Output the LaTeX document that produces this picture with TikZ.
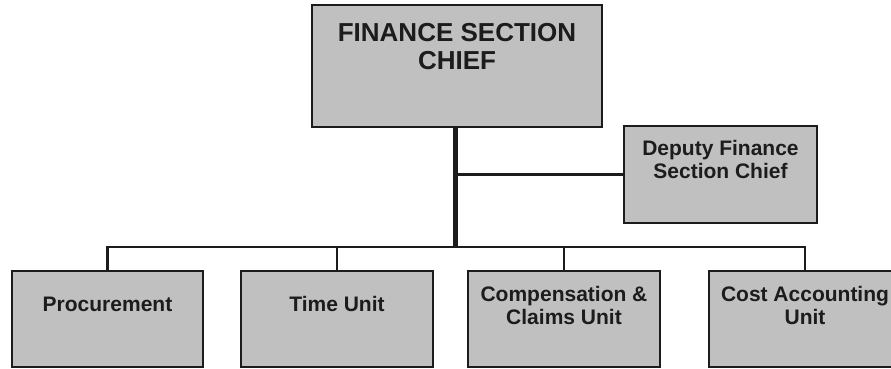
\documentclass[tikz,border=0pt]{standalone}
\usepackage{fontspec}
\setmainfont{Liberation Sans}
\definecolor{boxfill}{HTML}{C0C0C0}
\definecolor{ink}{HTML}{1C1C1C}
\begin{document}
\begin{tikzpicture}[x=1pt,y=-1pt,
  orgbox/.style={draw=ink, fill=boxfill, line width=2.8pt, inner sep=0pt, text=ink, rectangle},
  trunk/.style={draw=ink, line width=4.5pt},
  link/.style={draw=ink, line width=2.5pt}]
\useasboundingbox (0,0) rectangle (891,369);
\clip (0,0) rectangle (891,369);
% boxes
\node[orgbox] (chief) at (457,66) {\parbox[c][122pt][t]{290pt}{\centering\fontsize{26}{28}\selectfont\bfseries\rule{0pt}{37pt}FINANCE SECTION\\CHIEF}};
\node[orgbox] (deputy) at (720.5,174.5) {\parbox[c][97pt][t]{193pt}{\centering\fontsize{21}{23}\selectfont\bfseries\rule{0pt}{29pt}Deputy Finance\\Section Chief}};
\node[orgbox] (proc) at (107.5,319) {\parbox[c][96pt][t]{191pt}{\centering\fontsize{21}{23}\selectfont\bfseries\rule{0pt}{40pt}Procurement}};
\node[orgbox] (time) at (337,319) {\parbox[c][96pt][t]{192pt}{\centering\fontsize{21}{23}\selectfont\bfseries\rule{0pt}{40pt}Time Unit}};
\node[orgbox] (comp) at (564,319) {\parbox[c][96pt][t]{192pt}{\centering\fontsize{21}{23}\selectfont\bfseries\rule{0pt}{30pt}Compensation \&\\Claims Unit}};
\node[orgbox] (cost) at (805,319) {\parbox[c][96pt][t]{192pt}{\centering\fontsize{21}{23}\selectfont\bfseries\rule{0pt}{30pt}Cost Accounting\\Unit}};
% connectors
\coordinate (junc) at (455.5,247);
\coordinate (chiefout) at (455.5,127);
\coordinate (depjunc) at (455.5,174.5);
\draw[link] (proc.north) |- (junc);
\draw[link] (time.north) |- (junc);
\draw[link] (comp.north) |- (junc);
\draw[link] (cost.north) |- (junc);
\draw[link] (deputy.west) -- (depjunc);
\draw[trunk] (chiefout) -- (junc);
\end{tikzpicture}
\end{document}
